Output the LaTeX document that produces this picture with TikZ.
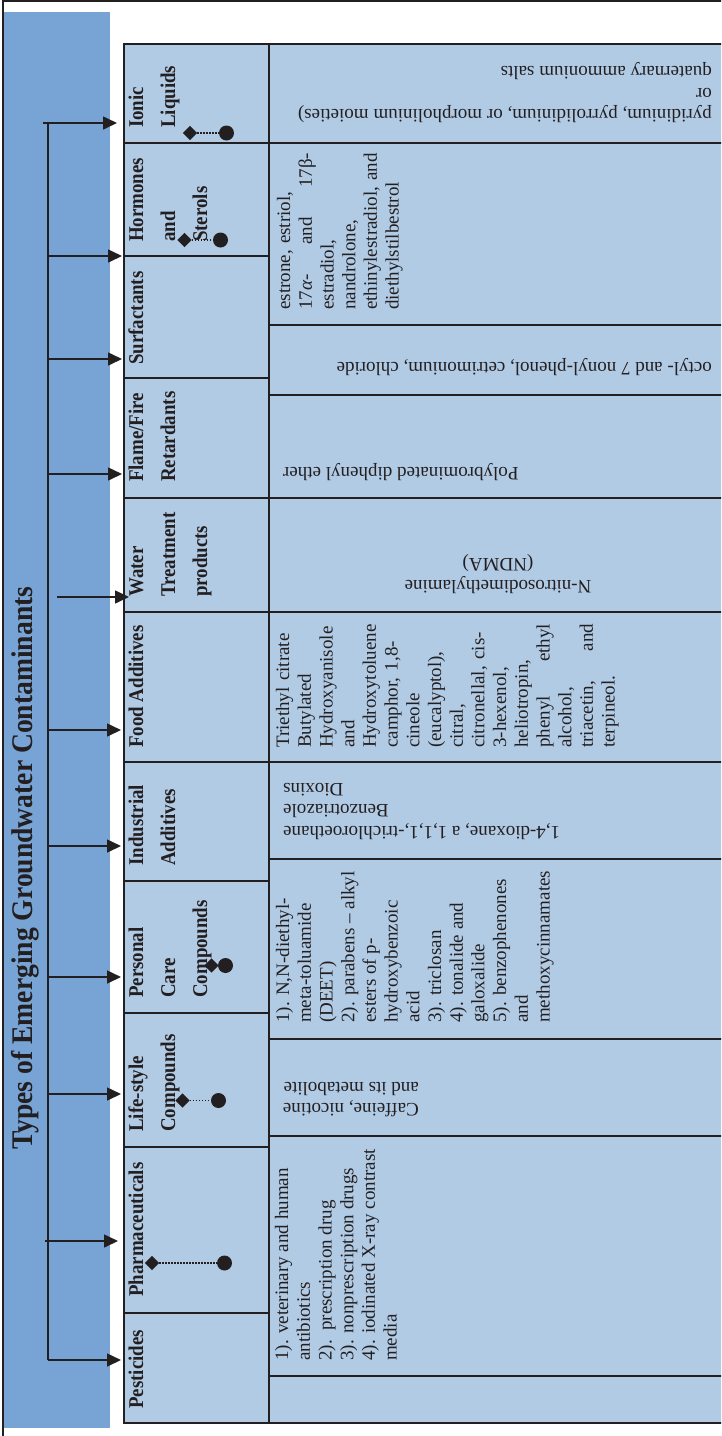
\documentclass[tikz,border=0pt]{standalone}
\usepackage{fontspec}
\setmainfont{Liberation Serif}
\usetikzlibrary{arrows.meta,shapes.geometric}
\definecolor{ink}{RGB}{35,31,32}
\definecolor{barblue}{RGB}{119,164,213}
\definecolor{cellblue}{RGB}{177,203,229}
\begin{document}
\begin{tikzpicture}[x=1pt,y=-1pt,
  rule/.style={draw=ink,line width=2pt},
  arr/.style={draw=ink,line width=1.6pt,-{Triangle[length=14pt,width=13pt]}},
  cat/.style={rotate=90,xscale=0.9,anchor=north west,inner sep=0pt,align=left,
    text=ink,font=\fontsize{21}{32}\selectfont\bfseries},
  txt/.style={inner sep=0pt,text=ink,font=\fontsize{19}{21.7}\selectfont},
  dia/.style={diamond,fill=ink,inner sep=0pt,minimum size=14.5pt},
  dot/.style={circle,fill=ink,inner sep=0pt,minimum size=15pt},
  dotline/.style={draw=ink,line width=1.3pt,dash pattern=on 1.4pt off 1.6pt}]
\useasboundingbox (0,0) rectangle (721,1436);
\clip (0,0) rectangle (721,1436);

% frame and title bar
\draw[ink,line width=2pt] (2.7,1440) -- (2.7,1.3) -- (725,1.3);
\fill[barblue] (3.5,12) rectangle (110,1428);
\node[rotate=90,xscale=0.92,anchor=base west,inner sep=0pt,text=ink,
  font=\fontsize{30}{36}\selectfont\bfseries] (title) at (32,1150)
  {Types of Emerging Groundwater Contaminants};

% table body
\fill[cellblue] (123.5,43.5) rectangle (730,1423);
\foreach \yy in {143,256,378,498,612,762,881,1013,1147,1313}
  \draw[rule] (123.5,\yy) -- (269,\yy);
\foreach \yy in {143,325,395,498,612,762,859,1039,1136,1376}
  \draw[rule] (269,\yy) -- (730,\yy);
\draw[rule] (269,43.5) -- (269,1423);
\draw[rule] (730,43.5) -- (123.5,43.5) -- (123.5,1423) -- (730,1423);

% category labels
\node[cat] (k-ionic) at (120.6,128) {\strut Ionic\\Liquids};
\node[cat] (k-hormones) at (120.6,242) {\strut Hormones\\and\\Sterols};
\node[cat] (k-surf) at (120.6,365) {\strut Surfactants};
\node[cat] (k-flame) at (120.6,482) {\strut Flame/Fire\\Retardants};
\node[cat] (k-water) at (120.6,597) {\strut Water\\Treatment\\products};
\node[cat] (k-food) at (120.6,748) {\strut Food Additives};
\node[cat] (k-ind) at (120.6,866) {\strut Industrial\\Additives};
\node[cat] (k-personal) at (120.6,998) {\strut Personal\\Care\\Compounds};
\node[cat] (k-life) at (120.6,1132) {\strut Life-style\\Compounds};
\node[cat] (k-pharm) at (120.6,1297) {\strut Pharmaceuticals};
\node[cat] (k-pest) at (120.6,1409) {\strut Pesticides};

% cell contents
\node[txt,rotate=180,anchor=north west,align=left] (t-ionic) at (712,125.2)
  {\strut pyridinium, pyrrolidinium, or morpholinium moieties)\\or\\quaternary ammonium salts};
\node[txt,rotate=90,anchor=north west,text width=157pt,align=left] (t-hormones) at (274.8,310)
  {\strut estrone, estriol,\\17{\itshape α}-\hfill and\hfill 17β-\\estradiol,\\nandrolone,\\ethinylestradiol,~and\\diethylstilbestrol};
\node[txt,rotate=180,anchor=north west] (t-surf) at (712,378)
  {\strut octyl- and 7 nonyl-phenol, cetrimonium, chloride};
\node[txt,rotate=180,anchor=north east] (t-flame) at (283,482.7)
  {\strut Polybrominated diphenyl ether};
\node[txt,rotate=180,anchor=north,align=center] (t-water) at (498,596)
  {\strut N-nitrosodimethylamine\\(NDMA)};
\node[txt,rotate=90,anchor=north west,text width=124pt,align=left] (t-food) at (273.8,748)
  {\strut Triethyl citrate\\Butylated\\Hydroxyanisole\\and\\Hydroxytoluene\\camphor, 1,8-\\cineole\\(eucalyptol),\\citral,\\citronellal, cis-\\3-hexenol,\\heliotropin,\\phenyl\hfill ethyl\\alcohol,\\triacetin,\hfill and\\terpineol.};
\node[txt,rotate=180,anchor=north east,align=right] (t-ind) at (283,842)
  {\strut 1,4-dioxane, a 1,1,1,-trichloroethane\\Benzotriazole\\Dioxins};
\node[txt,rotate=90,anchor=north west,align=left] (t-personal) at (273.8,1023)
  {\strut 1). N,N-diethyl-\\meta-toluamide\\(DEET)\\2). parabens -- alkyl\\esters of p-\\hydroxybenzoic\\acid\\3). triclosan\\4). tonalide and\\galoxalide\\5). benzophenones\\and\\methoxycinnamates};
\node[txt,rotate=180,anchor=north west,align=left] (t-life) at (419,1119.2)
  {\strut Caffeine, nicotine\\and its metabolite};
\node[txt,rotate=90,anchor=north west,align=left] (t-pharm) at (272.8,1361)
  {\strut 1). veterinary and human\\antibiotics\\2).\ \ prescription drug\\3). nonprescription drugs\\4). iodinated X-ray contrast\\media};

% branching arrows
\coordinate (sp-top) at (48,123);
\coordinate (sp-bot) at (48,1360);
\draw[ink,line width=1.6pt] (sp-top) -- (sp-bot);
\foreach \n/\sx/\yy/\ex in {ionic/43/123/117, hormones/48/256/122, surf/48/359/122,
    flame/48/474/122, water/57/597/129, food/48/730/121, ind/48/846/121,
    personal/48/977/121, life/48/1094/121, pharm/45/1241/118}{
  \coordinate (s-\n) at (\sx,\yy);
  \coordinate (e-\n) at (\ex,\yy);
  \draw[arr] (s-\n) -- (e-\n);
}
\coordinate (e-pest) at (121,1360);
\draw[arr] (sp-bot) -- (e-pest);

% diamond-dot markers
\foreach \n/\dx/\cx/\yy in {ionic/190/226.5/133, hormones/184.5/220.5/240,
    personal/211.5/225.5/965.5, life/182.5/218.5/1100.5, pharm/152/224.5/1263}{
  \node[dia] (d-\n) at (\dx,\yy) {};
  \node[dot] (c-\n) at (\cx,\yy) {};
  \draw[dotline] (d-\n) -- (c-\n);
}
\end{tikzpicture}
\end{document}
